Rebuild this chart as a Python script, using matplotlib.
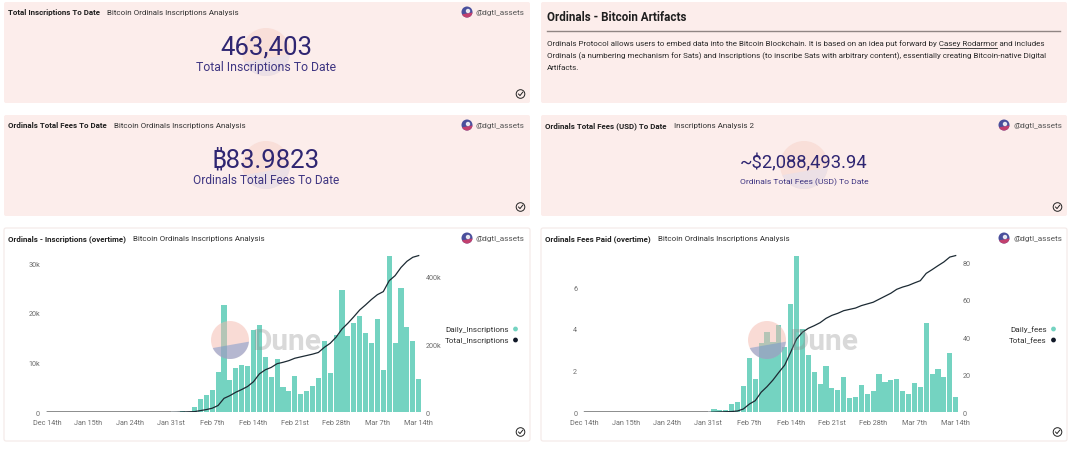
import numpy as np
import matplotlib
matplotlib.use('Agg')
import matplotlib.pyplot as plt
from matplotlib.patches import Circle, FancyBboxPatch, Polygon

plt.rcParams['font.family'] = ['Roboto', 'Noto Sans', 'DejaVu Sans']

W, H = 1080, 452

tick_labels = ['Dec 14th', 'Jan 15th', 'Jan 24th', 'Jan 31st', 'Feb 7th',
               'Feb 14th', 'Feb 21st', 'Feb 28th', 'Mar 7th', 'Mar 14th']

daily_inscriptions = [0, 0, 0, 0, 0, 0, 0, 0, 0, 0, 0, 0, 0, 0, 0, 0, 0, 0, 0, 0, 0,
                      100, 100, 300, 150, 1000, 2600, 3400, 4500, 8200, 21500, 6500,
                      9000, 9500, 9300, 16500, 17500, 11100, 7200, 10700, 5000, 4200,
                      7300, 3700, 4200, 5200, 7000, 14400, 7900, 15600, 24700, 15300,
                      18000, 19300, 15900, 13900, 18700, 8600, 31500, 13900, 25100,
                      17200, 14400, 6600]
total_inscriptions = [0, 0, 0, 0, 0, 0, 0, 0, 0, 0, 0, 0, 0, 0, 0, 0, 0, 0, 0, 0, 0,
                      200, 400, 1000, 1500, 2000, 5000, 8000, 12000, 20000, 41000, 49000,
                      59000, 67000, 76000, 90000, 113000, 125000, 132000, 143000, 147000,
                      152000, 159000, 163000, 167000, 171000, 176000, 191000, 203000,
                      221000, 245000, 262000, 281000, 301000, 316000, 332000, 346000,
                      355000, 387000, 402000, 426000, 444000, 456000, 461000]

daily_fees = [0, 0, 0, 0, 0, 0, 0, 0, 0, 0, 0, 0, 0, 0, 0, 0, 0, 0, 0, 0, 0,
              0.02, 0.16, 0.1, 0.12, 0.38, 0.5, 1.25, 2.6, 1.6, 3.3, 3.87, 3.35, 4.2,
              3.15, 5.2, 7.5, 4.0, 2.75, 1.92, 1.34, 2.2, 1.17, 1.07, 1.7, 0.67, 0.74,
              1.3, 0.86, 1.04, 1.86, 1.46, 1.54, 1.58, 1.0, 0.88, 1.41, 1.23, 4.29,
              1.86, 2.08, 1.7, 2.83, 0.74]
total_fees = [0, 0, 0, 0, 0, 0, 0, 0, 0, 0, 0, 0, 0, 0, 0, 0, 0, 0, 0, 0, 0,
              0.02, 0.1, 0.2, 0.3, 0.4, 0.7, 1.8, 4.4, 6.2, 10.7, 13.7, 17.2, 21.3,
              25.2, 32, 39.1, 42.7, 44.8, 46.2, 47.8, 50.1, 51.7, 52.8, 54.2, 54.9,
              55.6, 56.9, 57.8, 58.7, 60.3, 61.9, 63.5, 65.6, 66.8, 67.7, 69, 70.2,
              74.1, 76.1, 78.2, 80.2, 82.8, 83.6]

left_ticks = [0, 10000, 20000, 30000]
left_labels = ['0', '10k', '20k', '30k']
left_right_ticks = [0, 200000, 400000]
left_right_labels = ['0', '200k', '400k']
fee_ticks = [0, 2, 4, 6]
fee_right_ticks = [0, 20, 40, 60, 80]

description = [
    'Ordinals Protocol allows users to embed data into the Bitcoin Blockchain. It is based on an idea put forward by Casey Rodarmor and includes',
    'Ordinals (a numbering mechanism for Sats) and Inscriptions (to inscribe Sats with arbitrary content), essentially creating Bitcoin-native Digital',
    'Artifacts.',
]

PINK = '#fcedeb'
BAR = '#74d3c1'
INK = '#2f2672'
GREY = '#6d6d6d'

fig = plt.figure(figsize=(W / 100, H / 100), dpi=100, facecolor='white')


def px_axes(zorder):
    ax = fig.add_axes([0, 0, 1, 1], zorder=zorder)
    ax.set_xlim(0, W)
    ax.set_ylim(H, 0)
    ax.axis('off')
    return ax


bg = px_axes(0)
fg = px_axes(5)


def logo(ax, x, y, r, top, bottom):
    ax.add_patch(Circle((x, y), r, color=top, lw=0))
    t = np.radians(np.linspace(5, 155, 40))
    ax.add_patch(Polygon(np.column_stack([x + r * np.cos(t), y + r * np.sin(t)]),
                         color=bottom, lw=0))


def panel(x0, y0, x1, y1, face, title=None, sub=None, edge='none'):
    bg.add_patch(FancyBboxPatch((x0, y0), x1 - x0, y1 - y0,
                                boxstyle='round,pad=0,rounding_size=2',
                                fc=face, ec=edge, lw=0.8))
    if title is None:
        return
    t = bg.text(x0 + 4, y0 + 10, title, fontsize=5.7, fontweight='bold',
                color='#1f1f1f', va='center')
    fig.canvas.draw()
    end = bg.transData.inverted().transform((t.get_window_extent().x1, 0))[0]
    bg.text(end + 7, y0 + 10, sub, fontsize=5.8, color='#333333', va='center')
    # avatar and author
    logo(bg, x1 - 63, y0 + 10, 5.5, '#4a4f9c', '#c2406e')
    bg.add_patch(Circle((x1 - 62, y0 + 9), 2.2, color='#e8e8f0', lw=0))
    bg.text(x1 - 5, y0 + 10, '@dgtl_assets', fontsize=5.9, color='#555555',
            va='center', ha='right')
    # check mark
    cx, cy = x1 - 9.5, y1 - 9
    bg.add_patch(Circle((cx, cy), 4.3, fc='none', ec='#222222', lw=0.7))
    bg.plot([cx - 2, cx - 0.5, cx + 2.2], [cy, cy + 1.6, cy - 1.8], color='#222222', lw=0.7)


def stat(cx, cy, value, label, vsize, lsize, vy, ly):
    logo(bg, cx, cy, 24, '#f9dfd9', '#ece0e6')
    bg.text(cx, vy, value, fontsize=vsize, color=INK, ha='center', va='center')
    bg.text(cx, ly, label, fontsize=lsize, color='#3f3682', ha='center', va='center')


def chart(x_first, step, top_px, y_max, y2_max, daily, total, ticks, labels, ticks2, labels2):
    base_px = 413.3
    left = x_first - step / 2
    rect = [left / W, 1 - base_px / H, 64 * step / W, (base_px - top_px) / H]
    ax = fig.add_axes(rect, zorder=2)
    ax.patch.set_alpha(0)
    xs = np.arange(len(daily))
    ax.bar(xs, daily, width=0.88, color=BAR, lw=0)
    ax.set_xlim(-0.5, 63.5)
    ax.set_ylim(0, y_max)
    ax.set_yticks(ticks)
    ax.set_yticklabels(labels)
    ax.set_xticks(xs[::7])
    ax.set_xticklabels(tick_labels)
    ax.tick_params(length=0, labelsize=5.2, labelcolor=GREY)
    ax.tick_params(axis='x', pad=4.5)
    ax.tick_params(axis='y', pad=3)

    ax2 = ax.twinx()
    ax2.set_zorder(3)
    ax2.plot(xs, total, color='#1c2a33', lw=0.9)
    ax2.hlines(0, 0, 21, color='#8c8c8c', lw=1.3)
    ax2.set_ylim(0, y2_max)
    ax2.set_yticks(ticks2)
    ax2.set_yticklabels(labels2)
    ax2.tick_params(length=0, labelsize=5.2, labelcolor=GREY, pad=3)
    for a in (ax, ax2):
        for s in a.spines.values():
            s.set_visible(False)


def legend(x_end, names):
    for y, name, c in zip((330, 341), names, (BAR, '#111827')):
        bg.text(x_end, y, name, fontsize=5.9, color='#333333', ha='right', va='center')
        bg.add_patch(Circle((x_end + 6.5, y), 2.4, color=c, lw=0))


def watermark(x, y):
    logo(fg, x, y, 19, (0.96, 0.72, 0.68, 0.5), (0.45, 0.58, 0.80, 0.5))
    fg.text(x + 22, y + 1, 'Dune', fontsize=21.5, fontweight='bold', color=(0.55, 0.55, 0.55, 0.33),
            va='center', ha='left')


# top panels
panel(4, 3, 530, 104, PINK, 'Total Inscriptions To Date', 'Bitcoin Ordinals Inscriptions Analysis')
panel(4, 116, 530, 217, PINK, 'Ordinals Total Fees To Date', 'Bitcoin Ordinals Inscriptions Analysis')
panel(541, 116, 1067, 217, PINK, 'Ordinals Total Fees (USD) To Date', 'Inscriptions Analysis 2')
stat(266, 53, '463,403', 'Total Inscriptions To Date', 18.5, 8.8, 48, 68)
stat(266, 166, '\u20bf83.9823', 'Ordinals Total Fees To Date', 18.5, 8.6, 161, 181)
stat(804, 166, '~$2,088,493.94', 'Ordinals Total Fees (USD) To Date', 13.2, 6.1, 163, 182)

# text panel
panel(541, 3, 1067, 104, PINK)
bg.text(547, 17.5, 'Ordinals - Bitcoin Artifacts', fontsize=8.4, fontweight='bold',
        color='#1f1f1f', va='center')
bg.plot([547, 1060], [32, 32], color='#8f8583', lw=1)
for y, line in zip((44, 56, 67.5), description):
    bg.text(547, y, line, fontsize=5.75, color='#2a2a2a', va='center')
bg.plot([940, 997], [48.5, 48.5], color='#2a2a2a', lw=0.6)

# charts
panel(4, 229, 530, 442, 'white', 'Ordinals - Inscriptions (overtime)', 'Bitcoin Ordinals Inscriptions Analysis',
      edge='#f3e9e7')
panel(541, 229, 1067, 442, 'white', 'Ordinals Fees Paid (overtime)', 'Bitcoin Ordinals Inscriptions Analysis',
      edge='#f3e9e7')
chart(47, 5.9, 255, 31850, 465600, daily_inscriptions, total_inscriptions,
      left_ticks, left_labels, left_right_ticks, left_right_labels)
chart(584.3, 5.895, 250, 7.83, 87.1, daily_fees, total_fees,
      fee_ticks, [str(v) for v in fee_ticks], fee_right_ticks, [str(v) for v in fee_right_ticks])
legend(509, ['Daily_Inscriptions', 'Total_Inscriptions'])
legend(1047, ['Daily_fees', 'Total_fees'])
watermark(230, 341)
watermark(767, 341)

fig.savefig('out.png', dpi=100)
